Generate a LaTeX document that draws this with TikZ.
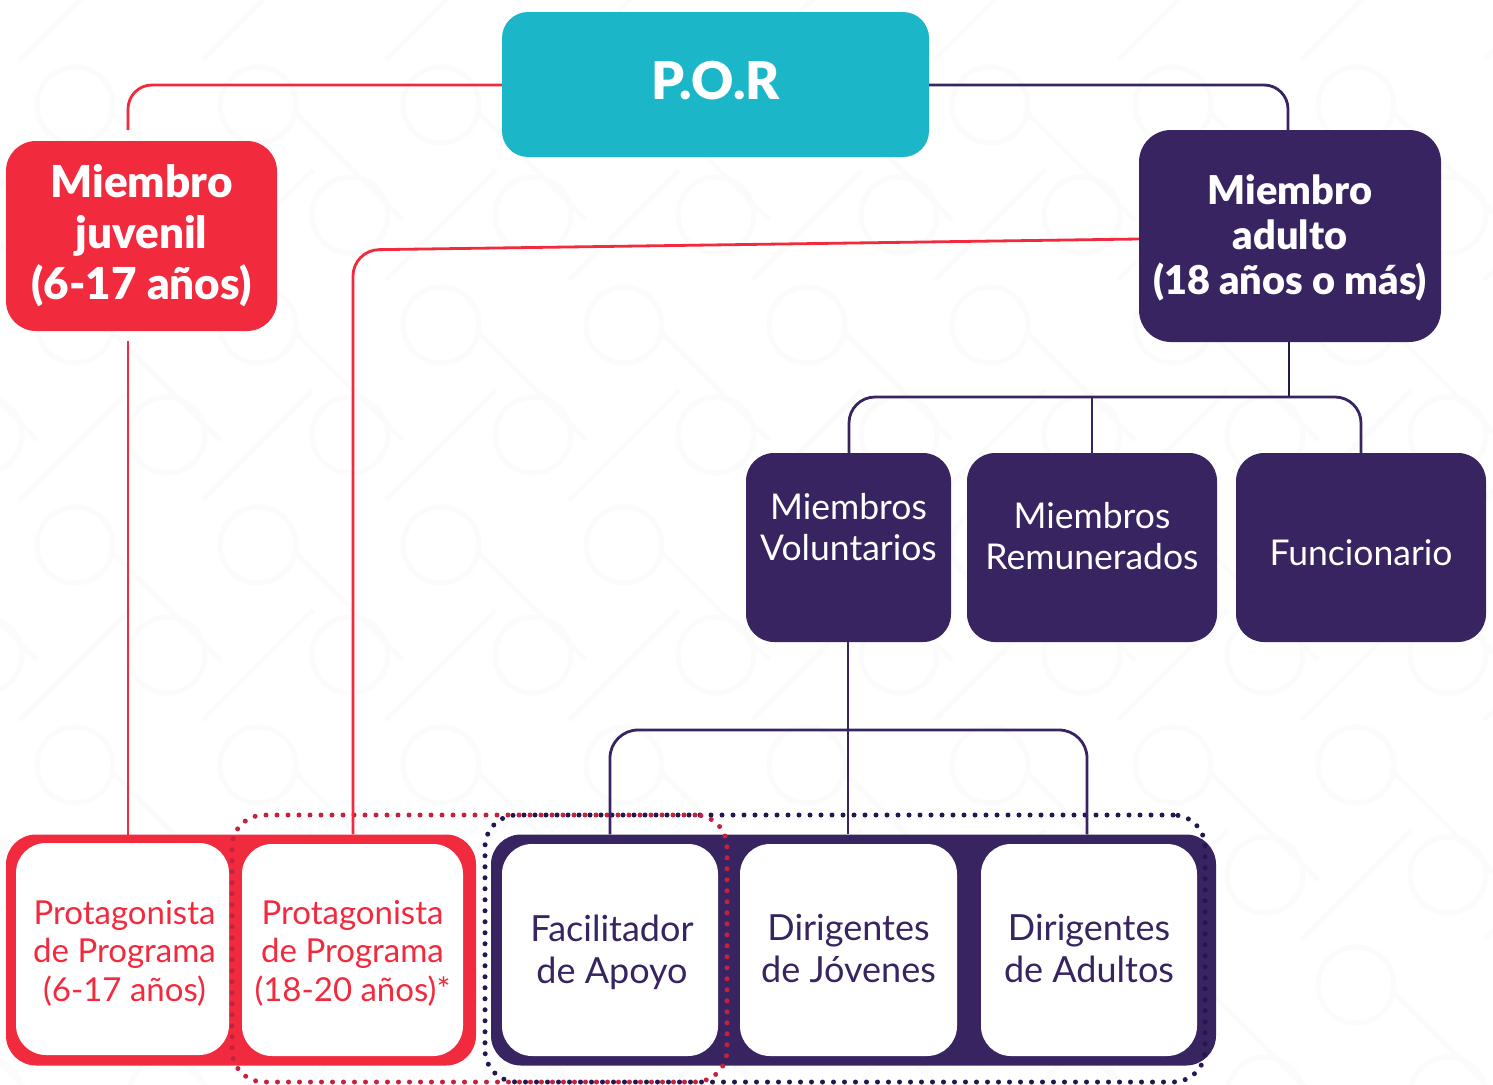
\documentclass[tikz,border=0pt]{standalone}
\usepackage{fontspec}
\setmainfont{Lato}
\newfontfamily\heavyfont{Lato Black}
\definecolor{por}{HTML}{1BB7C9}
\definecolor{rojo}{HTML}{F12A3E}
\definecolor{morado}{HTML}{372461}
\definecolor{dotrojo}{HTML}{C4223F}
\definecolor{dotmorado}{HTML}{241650}
\definecolor{patron}{HTML}{FBFBFB}
\tikzset{
  box/.style={rectangle,inner sep=0pt,align=center,text=white},
  bigbox/.style 2 args={box,font=\heavyfont\fontsize{#1}{#2}\selectfont},
  midbox/.style={box,fill=morado,rounded corners=28pt,font=\fontsize{35.5}{41}\selectfont},
  band/.style={rectangle,inner sep=0pt,rounded corners=30pt},
  whitebox/.style={box,fill=white,rounded corners=30pt},
  redtext/.style={text=rojo,font=\fontsize{33}{38.5}\selectfont},
  purpletext/.style={text=morado,font=\fontsize{36}{42}\selectfont},
  redline/.style={draw=rojo,line width=2.8pt,rounded corners=#1},
  redline/.default=24pt,
  purpleline/.style={draw=morado,line width=2.8pt,rounded corners=#1},
  purpleline/.default=24pt,
  dotring/.style={draw=#1,line width=5pt,line cap=round,dash pattern=on 0pt off 11pt,rounded corners=32pt},
}
\begin{document}
\begin{tikzpicture}[x=1pt,y=-1pt]
\useasboundingbox (0,0) rectangle (1493,1084);
\fill[white] (0,0) rectangle (1493,1084);
% faint background pattern
\begin{scope}
\clip (0,0) rectangle (1493,1084);
\foreach \cx in {-1,...,8}{
  \foreach \cy in {0,...,4}{
    \draw[patron,line width=5pt] ({75+183*\cx},{105+220*\cy}) circle (38pt);
    \draw[patron,line width=5pt] ({167+183*\cx},{215+220*\cy}) circle (38pt);
    \draw[patron,line width=5pt] ({20+183*\cx},{60+220*\cy}) -- ({130+183*\cx},{-50+220*\cy});
    \draw[patron,line width=5pt] ({110+183*\cx},{110+220*\cy}) -- ({220+183*\cx},{220+220*\cy});
  }
}
\end{scope}
% nodes
\node[bigbox={52}{58},fill=por,rounded corners=26pt,minimum width=427pt,minimum height=145pt] (pornode) at (715.5,84.5) {P.O.R\\[-50pt]\mbox{}};
\node[bigbox={44}{51},fill=rojo,rounded corners=30pt,minimum width=271pt,minimum height=190pt] (juvenil) at (141.5,236) {Miembro\\juvenil\\(6-17 años)};
\node[bigbox={39.7}{45},fill=morado,rounded corners=32pt,minimum width=302pt,minimum height=212pt] (adulto) at (1290,236) {\mbox{}\\[-11pt]Miembro\\adulto\\(18 años o más)};
\node[midbox,minimum width=205pt,minimum height=189pt] (vol) at (848.5,547.5) {Miembros\\Voluntarios\\[1pt]\mbox{}};
\node[midbox,minimum width=250pt,minimum height=189pt] (rem) at (1092,547.5) {Miembros\\Remunerados\\[-17pt]\mbox{}};
\node[midbox,minimum width=250pt,minimum height=189pt] (func) at (1361,547.5) {\mbox{}\\[-5pt]Funcionario};
\node[band,fill=rojo,minimum width=470pt,minimum height=231pt] (bandred) at (241,950) {};
\node[band,fill=morado,minimum width=725pt,minimum height=231pt] (bandpurple) at (853.5,950) {};
\node[whitebox,redtext,minimum width=213pt,minimum height=212pt] (p1) at (122.5,949) {\mbox{}\\[-6.5pt]\hspace*{4pt}Protagonista\\\hspace*{4pt}de Programa\\\hspace*{4pt}(6-17 años)};
\node[whitebox,redtext,minimum width=221pt,minimum height=212pt] (p2) at (352.5,950) {\mbox{}\\[-8.5pt]Protagonista\\de Programa\\(18-20 años)*};
\node[whitebox,purpletext,minimum width=216pt,minimum height=212pt] (fac) at (610,950) {\hspace*{4pt}Facilitador\\\hspace*{4pt}de Apoyo\\[-40pt]\mbox{}};
\node[whitebox,purpletext,minimum width=217pt,minimum height=212pt] (dj) at (848.5,950) {Dirigentes\\de Jóvenes\\[-38pt]\mbox{}};
\node[whitebox,purpletext,minimum width=216pt,minimum height=212pt] (da) at (1089,950) {Dirigentes\\de Adultos\\[-38pt]\mbox{}};
% dotted rings
\node[dotring=dotmorado,rectangle,minimum width=720pt,minimum height=267pt,inner sep=0pt] (ringp) at (845,948.5) {};
\node[dotring=dotrojo,rectangle,minimum width=495pt,minimum height=267pt,inner sep=0pt] (ringr) at (479.5,948.5) {};
% free ends
\coordinate (juvtop) at (128,130);
\coordinate (juvbot) at (128,341);
% connectors
\draw[redline] (pornode.west |- 0,85) -- (128,85) -- (juvtop);
\draw[redline] (juvbot) -- (128,835);
\draw[purpleline] (pornode.east |- 0,85) -- (1288,85) -- (1288,0 |- adulto.north);
\draw[redline=26pt] (adulto.west |- 0,239) -- (353,250) -- (353,0 |- bandred.north);
\draw[line width=2.8pt,draw=morado!70!black] (1289,0 |- adulto.south) -- (1289,397);
\draw[purpleline=26pt] (849,0 |- vol.north) -- (849,397) -- (1361,397) -- (1361,0 |- func.north);
\draw[purpleline] (1092,397) -- (1092,0 |- rem.north);
\draw[purpleline] (848,0 |- vol.south) -- (848,0 |- bandpurple.north);
\draw[purpleline=28pt] (610,0 |- bandpurple.north) -- (610,730) -- (1087,730) -- (1087,0 |- bandpurple.north);
\end{tikzpicture}
\end{document}
